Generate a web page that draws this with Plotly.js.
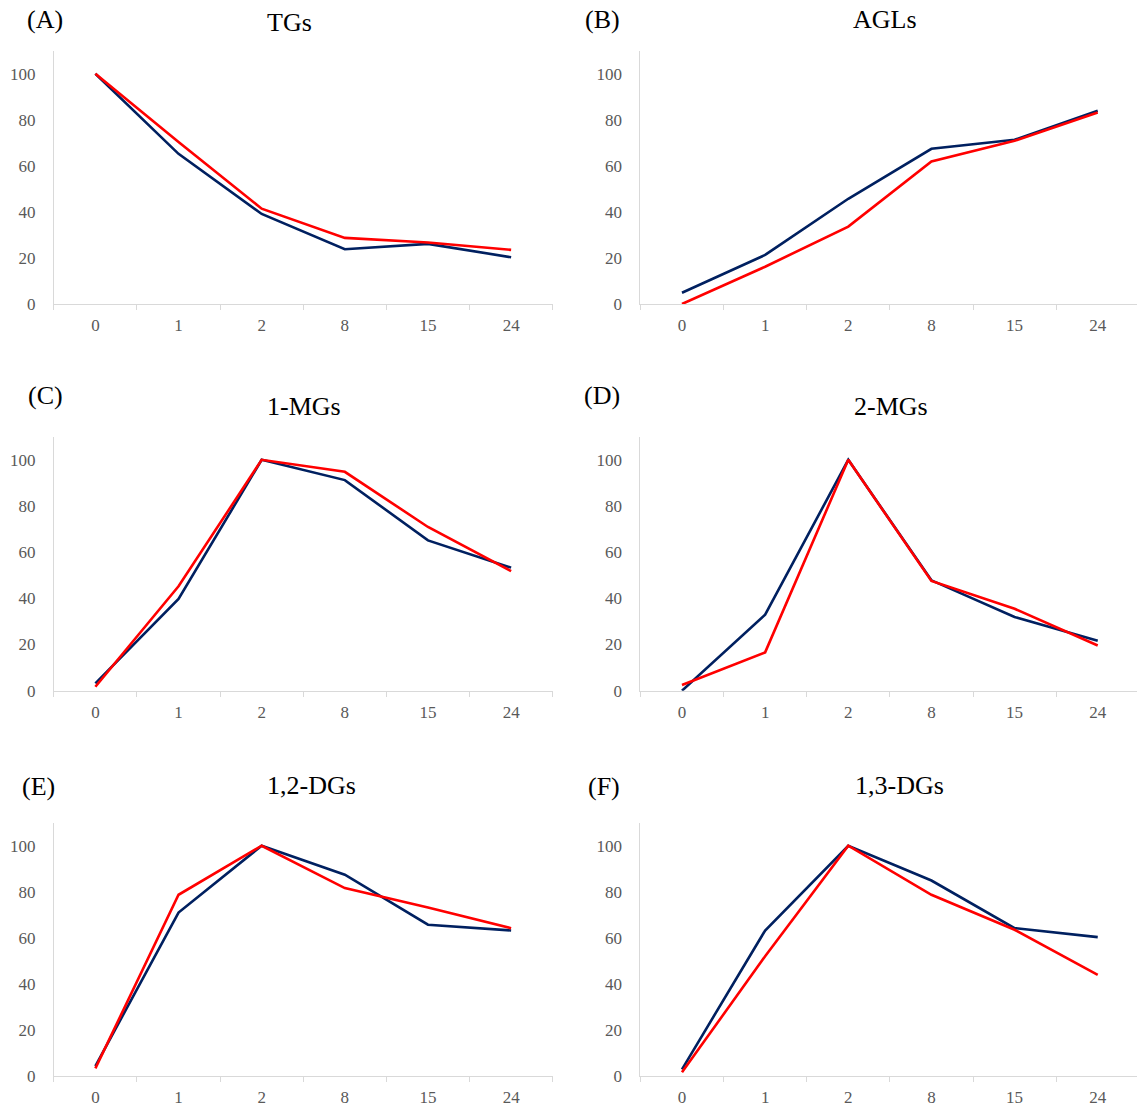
<!DOCTYPE html>
<html>
<head>
<meta charset="utf-8">
<script src="https://cdn.plot.ly/plotly-3.0.1.min.js"></script>
<style>
  html, body { margin: 0; padding: 0; background: #ffffff; }
  #chart { width: 1137px; height: 1107px; }
</style>
</head>
<body>
<div id="chart"></div>
<script>
// ---- Data ----
const timePoints = ["0", "1", "2", "8", "15", "24"];

const panelLetters = ["(A)", "(B)", "(C)", "(D)", "(E)", "(F)"];
const panelTitles  = ["TGs", "AGLs", "1-MGs", "2-MGs", "1,2-DGs", "1,3-DGs"];

const tgsNavy  = [100, 65.2, 39.1, 23.8, 26.1, 20.3];
const tgsRed   = [100, 70.4, 41.4, 28.7, 26.7, 23.5];
const aglsNavy = [4.9, 21.3, 45.7, 67.4, 71.3, 83.9];
const aglsRed  = [0, 16.2, 33.6, 61.9, 70.9, 83.2];
const mg1Navy  = [3.2, 39.7, 100, 91.2, 65.1, 53.3];
const mg1Red   = [1.7, 45.2, 100, 94.8, 70.9, 51.8];
const mg2Navy  = [0, 32.9, 100, 47.8, 31.9, 21.6];
const mg2Red   = [2.5, 16.6, 100, 47.5, 35.5, 19.6];
const dg12Navy = [4.3, 71.0, 100, 87.4, 65.7, 63.2];
const dg12Red  = [3.3, 78.7, 100, 81.6, 73.2, 64.2];
const dg13Navy = [2.9, 63.2, 100, 84.9, 64.2, 60.3];
const dg13Red  = [1.6, 52.0, 100, 78.7, 63.5, 43.9];

const yTicks = [0, 20, 40, 60, 80, 100];

const navySeries = [tgsNavy, aglsNavy, mg1Navy, mg2Navy, dg12Navy, dg13Navy];
const redSeries  = [tgsRed, aglsRed, mg1Red, mg2Red, dg12Red, dg13Red];

// ---- Layout geometry (pixels) ----
const W = 1137, H = 1107;
const colX = [[53.8, 552.7], [640.4, 1137]];
const rowY = [[304, 50.7], [690.7, 436.7], [1076, 822.7]]; // [baseline, top]
const letterPos = [[45, 20], [602, 20], [45, 395], [602, 395], [38, 786], [603.5, 786]];
const titlePos  = [[289, 22], [884.5, 20], [303.6, 406], [890.7, 406], [311, 785], [899, 785]];

const NAVY = "#002060", RED = "#FF0000";
const AXIS_LINE = "#d9d9d9", TICK_TEXT = "#595959";
const FONT = "'Liberation Serif', 'Times New Roman', Times, serif";

const traces = [];
const layout = {
  width: W, height: H,
  margin: {l: 0, r: 0, t: 0, b: 0},
  paper_bgcolor: "#ffffff",
  plot_bgcolor: "#ffffff",
  showlegend: false,
  font: {family: FONT, color: TICK_TEXT, size: 17},
  annotations: []
};

for (let i = 0; i < 6; i++) {
  const r = Math.floor(i / 2), c = i % 2;
  const idx = i === 0 ? "" : String(i + 1);
  const xa = "x" + idx, ya = "y" + idx;
  const pxPerCat = (colX[0][1] - colX[0][0]) / 6;
  const xr = [-0.5, -0.5 + (colX[c][1] - colX[c][0]) / pxPerCat];

  layout["xaxis" + idx] = {
    domain: [colX[c][0] / W, colX[c][1] / W],
    anchor: ya,
    type: "category",
    range: xr,
    showline: true, linecolor: AXIS_LINE, linewidth: 1,
    showgrid: false, zeroline: false,
    ticks: "outside", tickson: "boundaries", ticklen: 5, tickcolor: AXIS_LINE, tickwidth: 1,
    tickfont: {family: FONT, size: 17, color: TICK_TEXT},
    ticklabelstandoff: 6,
    fixedrange: true
  };
  layout["yaxis" + idx] = {
    domain: [(H - rowY[r][0]) / H, (H - rowY[r][1]) / H],
    anchor: xa,
    range: [0, 110],
    tickvals: yTicks,
    showline: true, linecolor: AXIS_LINE, linewidth: 1,
    showgrid: false, zeroline: false,
    ticks: "",
    tickfont: {family: FONT, size: 17, color: TICK_TEXT},
    ticklabelstandoff: 14,
    fixedrange: true
  };

  traces.push({
    x: timePoints, y: navySeries[i], xaxis: xa, yaxis: ya,
    type: "scatter", mode: "lines", name: "Series 1",
    line: {color: NAVY, width: 2.6}, hoverinfo: "x+y"
  });
  traces.push({
    x: timePoints, y: redSeries[i], xaxis: xa, yaxis: ya,
    type: "scatter", mode: "lines", name: "Series 2",
    line: {color: RED, width: 2.6}, hoverinfo: "x+y"
  });

  layout.annotations.push({
    text: panelLetters[i], xref: "paper", yref: "paper",
    x: letterPos[i][0] / W, y: (H - letterPos[i][1]) / H,
    xanchor: "center", yanchor: "middle", showarrow: false,
    font: {family: FONT, size: 26, color: "#000000"}
  });
  layout.annotations.push({
    text: panelTitles[i], xref: "paper", yref: "paper",
    x: titlePos[i][0] / W, y: (H - titlePos[i][1]) / H,
    xanchor: "center", yanchor: "middle", showarrow: false,
    font: {family: FONT, size: 26, color: "#000000"}
  });
}

Plotly.newPlot("chart", traces, layout, {displayModeBar: false, staticPlot: true});
</script>
</body>
</html>
